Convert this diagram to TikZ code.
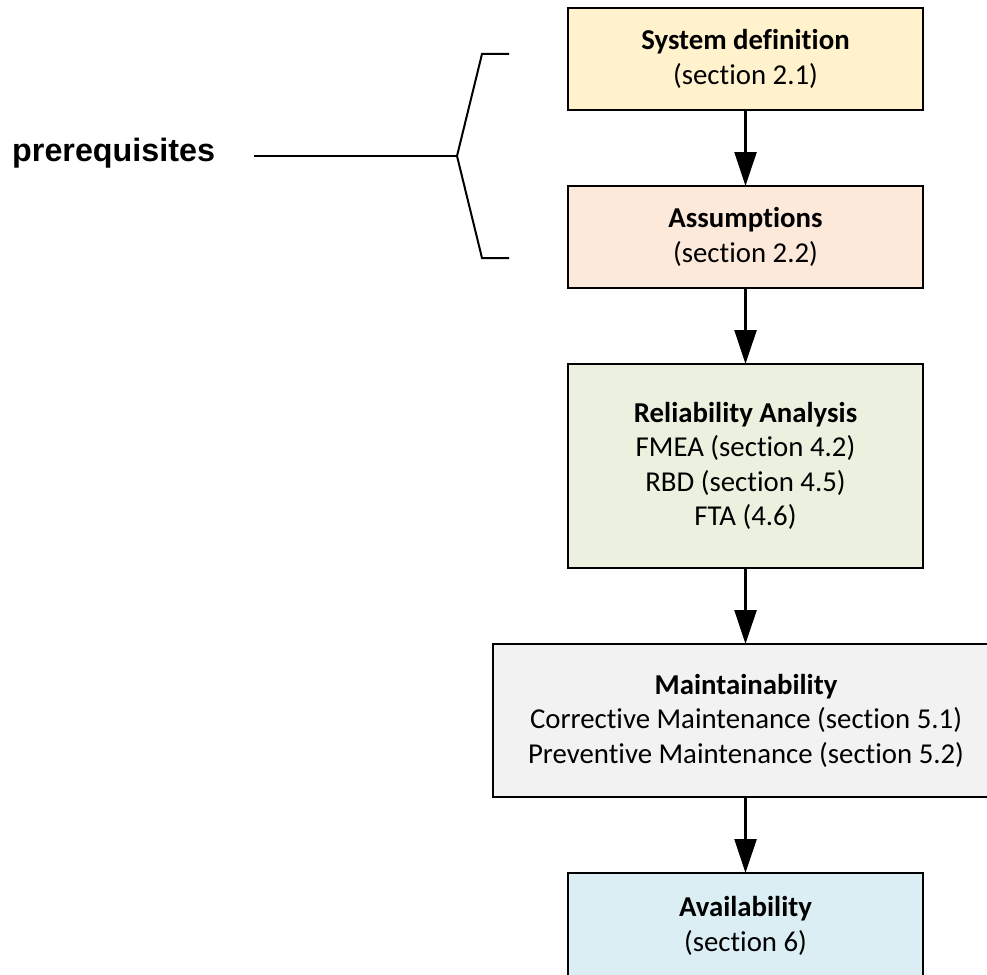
\documentclass[tikz,border=0pt]{standalone}
\usepackage{fontspec}
\setmainfont[Ligatures=CommonOff]{Carlito}
\newfontfamily\labelfont{Liberation Sans}
\usetikzlibrary{arrows.meta}

\definecolor{fillsys}{HTML}{FFF2CC}
\definecolor{fillass}{HTML}{FDE9D9}
\definecolor{fillrel}{HTML}{EBF1DE}
\definecolor{fillmnt}{HTML}{F2F2F2}
\definecolor{fillavl}{HTML}{DAEEF3}

\tikzset{
  stagebox/.style={draw=black, line width=2.6pt, outer sep=0pt, inner sep=0pt,
    align=center, minimum width=355pt,
    font=\fontsize{28.8}{34.5}\selectfont},
  flowarrow/.style={line width=2.4pt, -{Triangle[width=22pt,length=34pt]}},
  bracketline/.style={line width=2pt, line join=miter}
}

\begin{document}
\begin{tikzpicture}[x=1pt, y=-1pt]
  \useasboundingbox (0,0) rectangle (987,974);

  % process stages, top to bottom
  \node[stagebox, fill=fillsys, minimum height=102pt] (sys) at (745.5,59)
    {\textbf{System definition}\\(section 2.1)};
  \node[stagebox, fill=fillass, minimum height=102pt] (ass) at (745.5,237)
    {\textbf{Assumptions}\\(section 2.2)};
  \node[stagebox, fill=fillrel, minimum height=204pt] (rel) at (745.5,466)
    {\textbf{Reliability Analysis}\\FMEA (section 4.2)\\RBD (section 4.5)\\FTA (4.6)};
  \node[stagebox, fill=fillmnt, minimum width=506pt, minimum height=153pt] (mnt) at (746,720.5)
    {\textbf{Maintainability}\\Corrective Maintenance (section 5.1)\\Preventive Maintenance (section 5.2)};
  \node[stagebox, fill=fillavl, minimum height=106pt] (avl) at (745.5,926)
    {\textbf{Availability}\\(section 6)};

  \draw[flowarrow] (sys) -- (ass);
  \draw[flowarrow] (ass) -- (rel);
  \draw[flowarrow] (rel) -- (mnt.north -| rel.south);
  \draw[flowarrow] (mnt.south -| avl.north) -- (avl);

  % brace grouping the first two stages
  \coordinate (bt) at (509,54);
  \coordinate (bb) at (509,258);
  \coordinate (bv) at (457,156);
  \coordinate (lend) at (254,156);
  \draw[bracketline] (bt) -- (482,54) -- (bv) -- (482,258) -- (bb);
  \draw[bracketline] (lend) -- (bv);
  \node[anchor=base west, inner sep=0pt, font=\labelfont\bfseries\fontsize{32.3}{36}\selectfont] (pre) at (12,161) {prerequisites};
\end{tikzpicture}
\end{document}
